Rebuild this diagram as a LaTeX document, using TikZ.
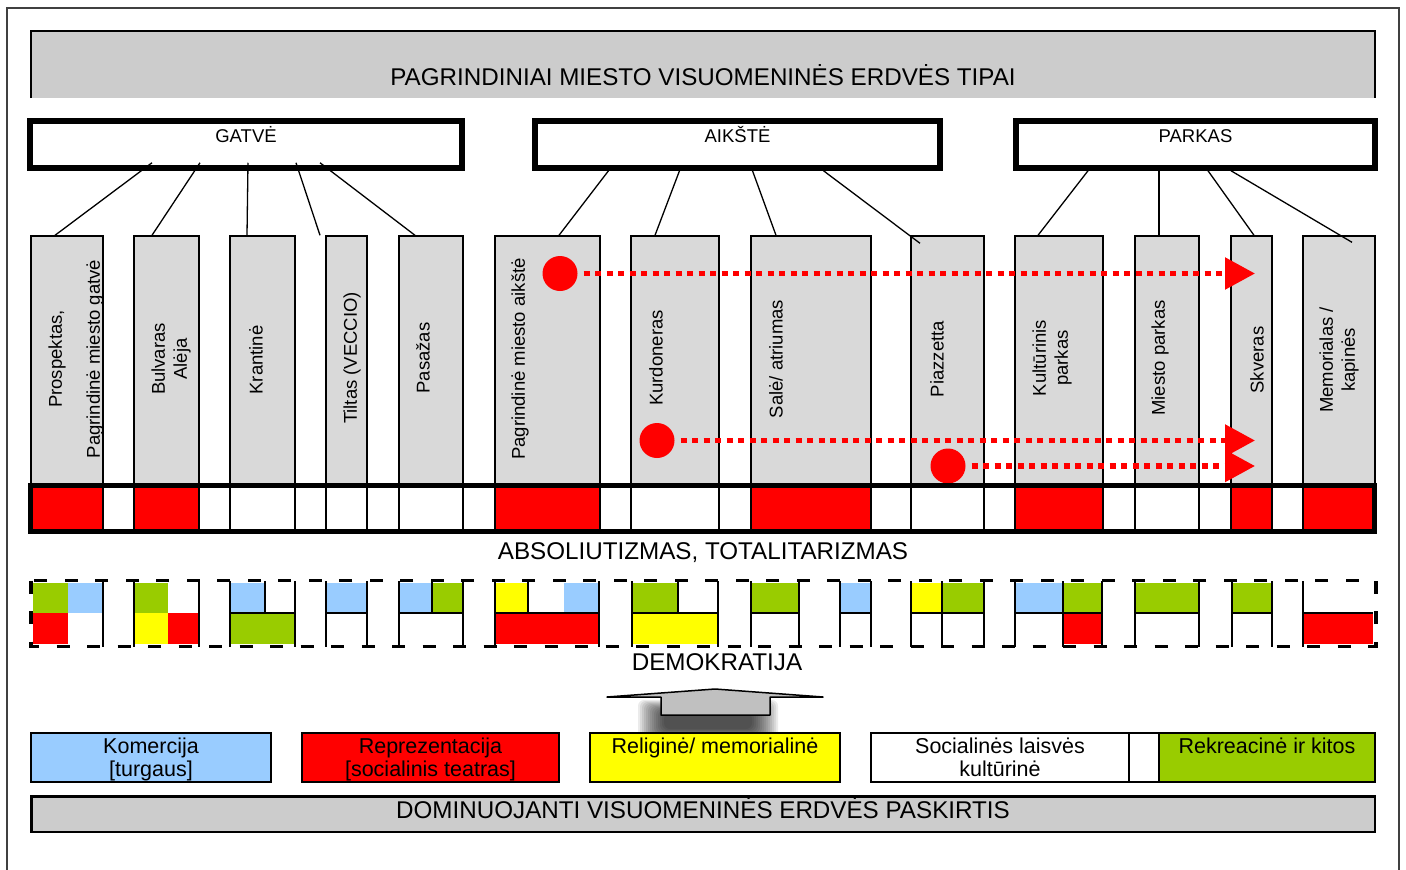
\documentclass[tikz,border=0pt]{standalone}
\usepackage{fontspec}
\setmainfont{Liberation Sans}
\usetikzlibrary{arrows.meta}

\definecolor{colgray}{HTML}{D9D9D9}
\definecolor{boxgray}{HTML}{CCCCCC}
\definecolor{arrgray}{HTML}{C0C0C0}
\definecolor{komblue}{HTML}{99CCFF}
\definecolor{rekgreen}{HTML}{99CC00}
\definecolor{relyellow}{HTML}{FFFF00}
\definecolor{repred}{HTML}{FF0000}

\begin{document}
\begin{tikzpicture}
  [x=1pt,y=-1pt,
   every node/.style={inner sep=2pt},
   frame/.style={draw=black!75,line width=1.8pt},
   titlebox/.style={fill=boxgray,outer sep=0pt,minimum width=1344pt,minimum height=67pt,
     font=\fontsize{24.2}{28}\selectfont,text height=41pt,text depth=0pt},
   catbox/.style={draw,line width=5.5pt,fill=white,minimum height=47pt,
     font=\fontsize{18.5}{22}\selectfont,text height=13pt,text depth=18pt},
   col/.style={draw,line width=1.4pt,fill=colgray,minimum height=249pt},
   cell/.style={draw,line width=1.4pt,minimum height=47pt},
   colname/.style={rotate=90,align=center,font=\fontsize{18.5}{22}\selectfont},
   link/.style={line width=1.3pt},
   dot/.style={circle,fill=repred,inner sep=0pt,minimum size=35pt},
   flow/.style={draw=repred,line width=5.5pt,dash pattern=on 6pt off 5.5pt,
     shorten <=6pt,-{Triangle[length=30pt,width=31pt]}},
   bigtext/.style={font=\fontsize{24.2}{28}\selectfont,text height=17pt,text depth=5pt},
   grid/.style={line width=1.8pt},
   dashframe/.style={line width=3.5pt,dash pattern=on 13pt off 17.5pt},
   legbox/.style={draw,line width=2pt,outer sep=0pt,minimum height=49pt,align=center,
     font=\fontsize{21.5}{23}\selectfont},
   legone/.style={legbox,text height=16pt,text depth=24pt},
   legtwo/.style={legbox,text height=39pt,text depth=1pt},
   dombox/.style={draw,line width=2.5pt,fill=boxgray,minimum width=1343.5pt,minimum height=35.5pt,
     font=\fontsize{24.2}{28}\selectfont,text height=17pt,text depth=9pt}]

  \useasboundingbox (0,0) rectangle (1406,870);
  \draw[frame] (7,870) |- (1399,8) -- (1399,870);

  % header
  \node[titlebox] (title) at (703,64.5) {PAGRINDINIAI MIESTO VISUOMENINĖS ERDVĖS TIPAI};
  \draw[line width=1.5pt] (title.south west) |- (title.north east) -- (title.south east);

  \node[catbox,minimum width=432pt] (gatve) at (246,144.5) {GATVĖ};
  \node[catbox,minimum width=405pt] (aikste) at (737.5,144.5) {AIKŠTĖ};
  \node[catbox,minimum width=359pt] (parkas) at (1195.5,144.5) {PARKAS};

  % columns and the row under them
  \foreach \n/\x/\w/\f in {1/67/72/repred, 2/166.5/65/repred, 3/262.5/65/white,
      4/346.5/41/white, 5/431/64/white, 6/547.5/105/repred, 7/675/88/white,
      8/811/120/repred, 9/947.5/73/white, 10/1059/88/repred, 11/1167/64/white,
      12/1251.5/41/repred, 13/1339/72/repred}{
    \node[col,minimum width=\w pt] (c\n) at (\x,360.5) {};
    \node[cell,fill=\f,minimum width=\w pt] (r\n) at (\x,508.5) {};
  }

  \foreach \from/\dx/\dy/\to/\ex/\ey in {
      gatve/-94/8/c1/-12/0, gatve/-46/8/c2/-14.5/0, gatve/2/8/c3/-15.5/0,
      gatve/50/8/c4/-26.5/0, gatve/74/8/c5/-16/0,
      aikste/-129/0/c6/11.5/0, aikste/-58/0/c7/-20/0, aikste/15/0/c8/-35/0,
      aikste/86/0/c9/-27.5/-8,
      parkas/-107.5/0/c10/-21/0, parkas/-36.5/0/c11/-8/0, parkas/12.5/0/c12/2.5/0,
      parkas/35.5/0/c13/13/-7}
    \draw[link] ([xshift=\dx pt,yshift=\dy pt]\from.south) -- ([xshift=\ex pt,yshift=\ey pt]\to.north);

  \node[colname] (l1) at (76,359) {Prospektas,\\[16pt]Pagrindinė miesto gatvė};
  \node[colname] (l2) at (171,359) {Bulvaras\\Alėja};
  \node[colname] (l3) at (256,360) {Krantinė};
  \node[colname] (l4) at (352,358) {Tiltas (VECCIO)};
  \node[colname] (l5) at (423,358) {Pasažas};
  \node[colname] (l6) at (520,359) {Pagrindinė miesto aikštė};
  \node[colname] (l7) at (656,358) {Kurdoneras};
  \node[colname] (l8) at (776,359) {Salė/ atriumas};
  \node[colname] (l9) at (937,359) {Piazzetta};
  \node[colname] (l10) at (1052,358) {Kultūrinis\\parkas};
  \node[colname] (l11) at (1160,358) {Miesto parkas};
  \node[colname] (l12) at (1257,360) {Skveras};
  \node[colname] (l13) at (1339,360) {Memorialas /\\kapinės};

  % red flows
  \node[dot] (d1) at (560,273.5) {};
  \node[dot] (d2) at (657,440.5) {};
  \node[dot] (d3) at (948,466) {};
  \coordinate (e1) at (1255,273.5);
  \coordinate (e2) at (1255,440.5);
  \coordinate (e3) at (1255,466);
  \foreach \from/\to in {d1/e1,d2/e2,d3/e3}
    \draw[flow] (\from) -- (\to);

  \draw[line width=5pt] (30,485.5) rectangle (1374.5,531.5);
  \node[bigtext] (absol) at (703,553.5) {ABSOLIUTIZMAS, TOTALITARIZMAS};

  % democracy row
  \foreach \xa/\xb/\ya/\yb/\f in {
      33/68/583/613/rekgreen, 68/103/583/613/komblue, 33/68/613/644/repred,
      134/168/583/613/rekgreen, 134/168/613/644/relyellow, 168/199/613/644/repred,
      230/265/583/613/komblue, 230/295/613/644/rekgreen,
      326/367/583/613/komblue,
      399/432/583/613/komblue, 432/463/583/613/rekgreen,
      495/528/583/613/relyellow, 564/599/583/613/komblue, 495/599/613/644/repred,
      632/678/583/613/rekgreen, 632/718/613/644/relyellow,
      751/799/583/613/rekgreen,
      840/871/583/613/komblue,
      911/942/583/613/relyellow, 942/984/583/613/rekgreen,
      1015/1063/583/613/komblue, 1063/1102/583/613/rekgreen, 1063/1102/613/644/repred,
      1135/1199/583/613/rekgreen,
      1232/1272/583/613/rekgreen,
      1303/1373/613/644/repred}
    \fill[\f] (\xa,\ya) rectangle (\xb,\yb);
  \foreach \x in {103,134,199,230,295,326,367,399,463,495,599,632,718,751,799,
      840,871,911,942,984,1015,1063,1102,1135,1199,1232,1272,1303}
    \draw[grid] (\x,581) -- (\x,647);
  \foreach \x in {265,432,528,678}
    \draw[grid] (\x,581) -- (\x,613);
  \foreach \xa/\xb in {230/295,326/367,399/463,495/599,632/718,751/799,840/871,
      911/984,1015/1102,1135/1199,1232/1272,1303/1373}
    \draw[grid] (\xa,613) -- (\xb,613);
  \draw[dashframe] (31,580.5) rectangle (1376,646.5);
  \node[bigtext] (demo) at (717,664) {DEMOKRATIJA};

  % up arrow with its shadow
  \foreach \i in {0,...,13}
    \fill[black,opacity=0.08,rounded corners=6pt] (638+2*\i,700+\i) rectangle (778-2*\i,742-\i);
  \draw[line width=1.5pt,line join=round,fill=arrgray] (607,697) -- (715,689) -- (823,697)
    -- (770,697) -- (770,715) -- (661,715) -- (661,697) -- cycle;

  % legend
  \node[legtwo,fill=komblue,minimum width=240pt] (kom) at (151,757) {Komercija\\{}[turgaus]};
  \node[legtwo,fill=repred,minimum width=257pt] (rep) at (430.5,757) {Reprezentacija\\{}[socialinis teatras]};
  \node[legone,fill=relyellow,minimum width=250pt] (rel) at (715,757) {Religinė/ memorialinė};
  \node[legtwo,fill=white,minimum width=258pt] (soc) at (1000,757) {Socialinės laisvės\\kultūrinė};
  \node[legone,fill=rekgreen,minimum width=216pt] (rek) at (1267,757) {Rekreacinė ir kitos};
  \draw[line width=2pt] (soc.north east) -- (rek.north west) (soc.south east) -- (rek.south west);

  \node[dombox] (dom) at (703,814) {DOMINUOJANTI VISUOMENINĖS ERDVĖS PASKIRTIS};
\end{tikzpicture}
\end{document}
